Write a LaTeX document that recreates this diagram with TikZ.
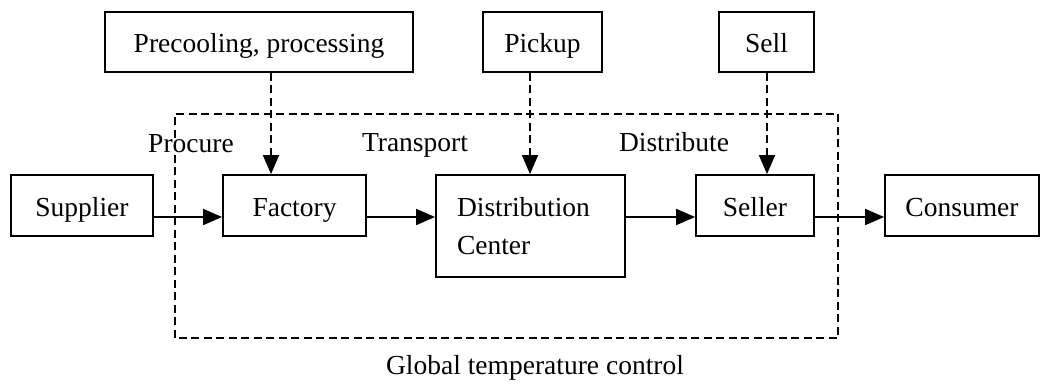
\documentclass[tikz,border=0pt]{standalone}
\usepackage{fontspec}
\setmainfont{Liberation Serif}
\usetikzlibrary{arrows.meta}
\begin{document}
\begin{tikzpicture}[x=1pt,y=1pt,
  box/.style={draw, line width=1.8pt, inner sep=0pt, text height=24pt, text depth=2pt,
    font=\fontsize{27.5}{38}\selectfont},
  lbl/.style={inner sep=0pt, anchor=base, font=\fontsize{27.5}{38}\selectfont},
  arr/.style={line width=1.8pt, -{Triangle[length=19pt,width=16pt]}},
  darr/.style={line width=1.8pt, dash pattern=on 8pt off 4.5pt, -{Triangle[length=19pt,width=16pt]}},
  dashbox/.style={line width=1.8pt, dash pattern=on 8pt off 4.5pt}]
\useasboundingbox (0,0) rectangle (1043,385);
% top boxes
\node[box, minimum width=308pt, minimum height=60pt] (pre) at (259,343) {Precooling, processing};
\node[box, minimum width=119pt, minimum height=60pt] (pick) at (542.5,343) {Pickup};
\node[box, minimum width=95pt, minimum height=60pt] (sell) at (766.5,343) {Sell};
% main row
\node[box, minimum width=142pt, minimum height=61pt] (sup) at (82,179.5) {Supplier};
\node[box, minimum width=143pt, minimum height=61pt] (fac) at (294.5,179.5) {Factory};
\node[draw, line width=1.8pt, minimum width=189pt, minimum height=102pt, inner xsep=21pt, inner ysep=0pt,
  text width=147pt, align=left, font=\fontsize{27.5}{38}\selectfont] (dc) at (530.5,159) {Distribution\\Center};
\node[box, minimum width=118pt, minimum height=61pt] (sel) at (755,179.5) {Seller};
\node[box, minimum width=154pt, minimum height=61pt] (con) at (962,179.5) {Consumer};
% dashed frame
\draw[dashbox] (175,47) rectangle (838,271);
% labels
\node[lbl] (lproc) at (191,232) {Procure};
\node[lbl] (ltrans) at (415,233) {Transport};
\node[lbl] (ldist) at (674,233) {Distribute};
\node[lbl] (lglob) at (535,10) {Global temperature control};
% connectors
\coordinate (r) at (0,168);
\coordinate (p1) at (271,0);
\coordinate (p2) at (530,0);
\coordinate (p3) at (767,0);
\draw[arr] (sup.east |- r) -- (fac.west |- r);
\draw[arr] (fac.east |- r) -- (dc.west |- r);
\draw[arr] (dc.east |- r) -- (sel.west |- r);
\draw[arr] (sel.east |- r) -- (con.west |- r);
\draw[darr] (pre.south -| p1) -- (fac.north -| p1);
\draw[darr] (pick.south -| p2) -- (dc.north -| p2);
\draw[darr] (sell.south -| p3) -- (sel.north -| p3);
\end{tikzpicture}
\end{document}
